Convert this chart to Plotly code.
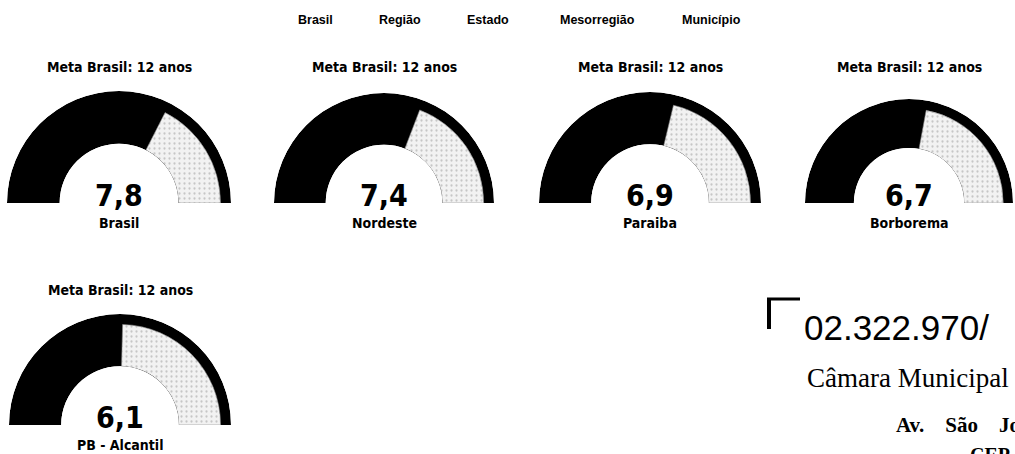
import plotly.graph_objects as go

W, H = 1015, 454

# ---- data ----
tabs = ["Brasil", "Região", "Estado", "Mesorregião", "Município"]
tab_x = [315, 400, 488, 597, 711]
places = ["Brasil", "Nordeste", "Paraiba", "Borborema", "PB - Alcantil"]
values = [7.8, 7.4, 6.9, 6.7, 6.1]
meta = 12
meta_text = "Meta Brasil: 12 anos"

# ---- layout of gauges (pixel positions) ----
centers_x = [119, 384, 650, 909, 120]
baselines = [203, 203, 203, 203, 425]
radii = [112, 110, 111, 104, 111]
title_y = [67, 67, 67, 67, 290]

DEG = 180.0 / meta  # angle per unit of the gauge scale

fig = go.Figure()
annotations = []
layout_polars = {}

for i, (name, v) in enumerate(zip(places, values)):
    cx, base, R = centers_x[i], baselines[i], radii[i]
    pid = "polar" if i == 0 else f"polar{i+1}"
    # full band (black)
    fig.add_trace(go.Barpolar(
        subplot=pid, r=[1.0], theta=[meta / 2 * DEG], width=[meta * DEG],
        marker=dict(color="#000000", line=dict(width=0)),
        hoverinfo="skip", showlegend=False))
    # remaining part up to the goal (light, dotted)
    fig.add_trace(go.Barpolar(
        subplot=pid, r=[0.80], theta=[(v + meta) / 2 * DEG], width=[(meta - v) * DEG],
        marker=dict(color="#eeeeee",
                    pattern=dict(shape=".", fgcolor="#9a9a9a", bgcolor="#f2f2f2",
                                 size=5, solidity=0.16),
                    line=dict(width=0.6, color="#8a8a8a")),
        hoverinfo="skip", showlegend=False))
    layout_polars[pid] = dict(
        domain=dict(x=[(cx - R) / W, (cx + R) / W],
                    y=[(H - base) / H, (H - base + R) / H]),
        sector=[0, 180], hole=0.53, bgcolor="rgba(0,0,0,0)", bargap=0,
        angularaxis=dict(visible=False, rotation=180, direction="clockwise",
                         showgrid=False, showline=False, ticks=""),
        radialaxis=dict(visible=False, range=[0, 1], showgrid=False,
                        showline=False, ticks=""),
    )
    annotations.append(dict(
        x=cx / W, y=1 - title_y[i] / H, xref="paper", yref="paper",
        text=f"<b>{meta_text}</b>", showarrow=False, xanchor="center", yanchor="middle",
        font=dict(family="DejaVu Sans Condensed", size=14, color="#000"),
    ))
    annotations.append(dict(
        x=cx / W, y=1 - (base - 8) / H, xref="paper", yref="paper",
        text=f"<b>{v:.1f}</b>".replace(".", ","), showarrow=False,
        xanchor="center", yanchor="middle",
        font=dict(family="DejaVu Sans Condensed", size=30, color="#000"),
    ))
    annotations.append(dict(
        x=cx / W, y=1 - (base + 20) / H, xref="paper", yref="paper",
        text=f"<b>{name}</b>", showarrow=False, xanchor="center", yanchor="middle",
        font=dict(family="DejaVu Sans Condensed", size=14, color="#000"),
    ))

for t, x in zip(tabs, tab_x):
    annotations.append(dict(
        x=x / W, y=1 - 20 / H, xref="paper", yref="paper", text=f"<b>{t}</b>",
        showarrow=False, xanchor="center", yanchor="middle",
        font=dict(family="Liberation Sans", size=12.5, color="#000"),
    ))

NB = "\u00a0"
# scanned stamp text at bottom right
annotations += [
    dict(x=802 / W, y=1 - 327 / H, xref="paper", yref="paper", text="02.322.970/",
         showarrow=False, xanchor="left", yanchor="middle",
         font=dict(family="Liberation Sans", size=35, color="#000")),
    dict(x=805 / W, y=1 - 378 / H, xref="paper", yref="paper",
         text="Câmara Municipal", showarrow=False, xanchor="left", yanchor="middle",
         font=dict(family="Liberation Serif", size=27, color="#000")),
    dict(x=894 / W, y=1 - 425 / H, xref="paper", yref="paper",
         text=f"<b>Av.{NB*4}São{NB*4}João</b>", showarrow=False,
         xanchor="left", yanchor="middle",
         font=dict(family="Liberation Serif", size=21, color="#000")),
    dict(x=968 / W, y=1 - 468 / H, xref="paper", yref="paper",
         text="<b>CEP</b>", showarrow=False, xanchor="left", yanchor="bottom",
         font=dict(family="Liberation Serif", size=20, color="#000")),
]

shapes = [
    dict(type="line", xref="paper", yref="paper", x0=767 / W, x1=800 / W,
         y0=1 - 299 / H, y1=1 - 299 / H, line=dict(color="#000", width=3)),
    dict(type="line", xref="paper", yref="paper", x0=769 / W, x1=769 / W,
         y0=1 - 298 / H, y1=1 - 329 / H, line=dict(color="#000", width=4)),
]

fig.update_layout(
    width=W, height=H, margin=dict(l=0, r=0, t=0, b=0),
    paper_bgcolor="#ffffff", plot_bgcolor="#ffffff",
    annotations=annotations, shapes=shapes, showlegend=False,
    **layout_polars,
)

fig.write_html("out.html", config={"displayModeBar": False},
               post_script="document.body.style.margin='0px';document.body.style.overflow='hidden';")
